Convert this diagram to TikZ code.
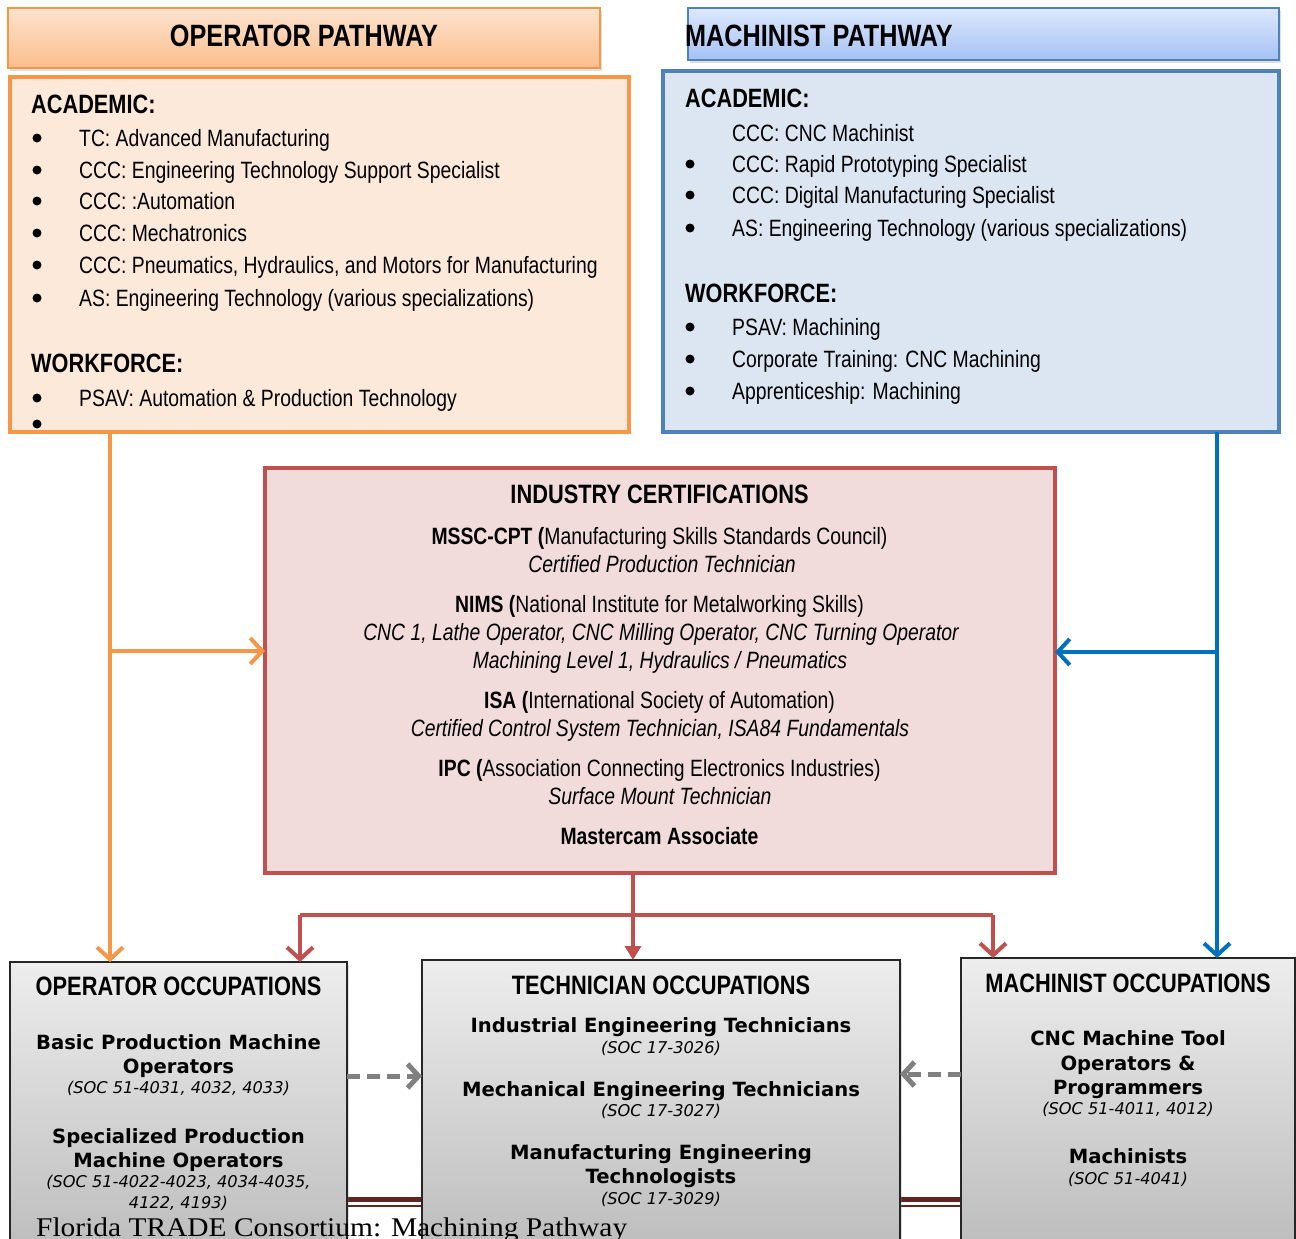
\documentclass[tikz,border=0pt]{standalone}
\usepackage{fontspec}
\setmainfont{Liberation Sans}
\newfontfamily\nar[FakeStretch=0.82]{Liberation Sans}
\newfontfamily\verd{DejaVu Sans}
\newfontfamily\ftr[FakeStretch=1.09]{Liberation Serif}
\usetikzlibrary{arrows.meta,shadows}
\definecolor{orgB}{HTML}{F79646}
\definecolor{orgF}{HTML}{FDE9D9}
\definecolor{orgT}{HTML}{FDE3CF}
\definecolor{orgD}{HTML}{FBBE8C}
\definecolor{bluB}{HTML}{4F81BD}
\definecolor{bluF}{HTML}{DCE6F2}
\definecolor{bluT}{HTML}{DDE8FB}
\definecolor{bluD}{HTML}{A5C2F5}
\definecolor{redB}{HTML}{C0504D}
\definecolor{redF}{HTML}{F2DCDB}
\definecolor{bluA}{HTML}{0070C0}
\definecolor{grayA}{HTML}{808080}
\definecolor{footR}{HTML}{622423}
\tikzset{
 ttl/.style={font=\nar\bfseries\fontsize{30.8}{36}\selectfont, anchor=base, inner sep=0},
 hd/.style={font=\nar\bfseries\fontsize{26.5}{31}\selectfont, anchor=base west, inner sep=0},
 chd/.style={font=\nar\bfseries\fontsize{26.6}{31}\selectfont, anchor=base, inner sep=0},
 bodyl/.style={font=\nar\fontsize{23.6}{28}\selectfont, anchor=base west, inner sep=0},
 bodyc/.style={font=\nar\fontsize{23.6}{28}\selectfont, anchor=base, inner sep=0},
 occ/.style={font=\verd\bfseries\fontsize{19.6}{23}\selectfont, anchor=base, inner sep=0},
 soc/.style={font=\verd\itshape\fontsize{16.2}{19}\selectfont, anchor=base, inner sep=0},
 bul/.style={circle, fill=black, inner sep=0, minimum size=9},
 boxn/.style={rectangle, anchor=north west, outer sep=0, inner sep=0},
 shd/.style={drop shadow={shadow xshift=2pt, shadow yshift=-3pt, opacity=0.25}},
 occbox/.style={boxn, draw=black!85, line width=2, shading=axis, top color=black!7, bottom color=black!28, shd},
 arr/.style={line width=4, -{Straight Barb[length=12,width=26]}},
 tri/.style={line width=4, -{Triangle[length=14,width=16]}},
 gdash/.style={grayA, line width=5, dash pattern=on 13pt off 7pt, -{Straight Barb[length=11,width=24]}},
}
\begin{document}
\begin{tikzpicture}[x=1pt,y=-1pt]
\useasboundingbox (0,0) rectangle (1296,1239);
\clip (0,0) rectangle (1296,1239);
\fill[white] (0,0) rectangle (1296,1239);

% footer rule (behind boxes)
\coordinate (fl) at (14,1199);
\coordinate (fr) at (1290,1199);
\coordinate (fl2) at (14,1206);
\coordinate (fr2) at (1290,1206);
\draw[footR, line width=5] (fl) -- (fr);
\draw[footR, line width=1.2] (fl2) -- (fr2);

% ===== boxes =====
\node[boxn, draw=orgB, line width=2.5, shading=axis, top color=orgT, bottom color=orgD, minimum width=592, minimum height=60, shd] (ophead) at (8,8) {};
\node[boxn, draw=orgB, line width=4, fill=orgF, minimum width=619, minimum height=355] (opbox) at (10,77) {};
\node[boxn, draw=bluB, line width=2.5, shading=axis, top color=bluT, bottom color=bluD, minimum width=591, minimum height=52, shd] (mahead) at (688,8) {};
\node[boxn, draw=bluB, line width=4, fill=bluF, minimum width=616, minimum height=361] (mabox) at (663,71) {};
\node[boxn, draw=redB, line width=4, fill=redF, minimum width=790, minimum height=405] (cert) at (265,468) {};
\node[occbox, minimum width=337, minimum height=320] (opocc) at (10,962) {};
\node[occbox, minimum width=478, minimum height=320] (tecocc) at (422,960) {};
\node[occbox, minimum width=334, minimum height=320] (maocc) at (961,958) {};

% ===== headers =====
\node[ttl] (opt) at (304,47) {OPERATOR PATHWAY};
\node[ttl, anchor=base west] (mat) at (685,47) {MACHINIST PATHWAY};

% ===== operator pathway content =====
\node[hd] (oacad) at (31,113) {ACADEMIC:};
\foreach \y/\t [count=\i] in {138/{TC: Advanced Manufacturing},
  170/{CCC: Engineering Technology Support Specialist},
  201/{CCC: :Automation},
  233/{CCC: Mechatronics},
  265/{CCC: Pneumatics, Hydraulics, and Motors for Manufacturing},
  298/{AS: Engineering Technology (various specializations)}}
{
  \node[bul] (ob\i) at (37,\y) {};
  \node[bodyl] (ot\i) at (79,\y+8) {\t};
}
\node[hd] (owork) at (31,372) {WORKFORCE:};
\node[bul] (ob7) at (37,398) {};
\node[bodyl] (ot7) at (79,406) {PSAV: Automation \& Production Technology};
\node[bul] (ob8) at (37,424) {};

% ===== machinist pathway content =====
\node[hd] (macad) at (685,107) {ACADEMIC:};
\node[bodyl] (mt0) at (732,141) {CCC: CNC Machinist};
\foreach \y/\t [count=\i] in {164/{CCC: Rapid Prototyping Specialist},
  195/{CCC: Digital Manufacturing Specialist},
  228/{AS: Engineering Technology (various specializations)}}
{
  \node[bul] (mb\i) at (690,\y) {};
  \node[bodyl] (mt\i) at (732,\y+8) {\t};
}
\node[hd] (mwork) at (685,302) {WORKFORCE:};
\foreach \y/\t [count=\i from 4] in {327/{PSAV: Machining},
  359/{Corporate Training: CNC Machining},
  391/{Apprenticeship: Machining}}
{
  \node[bul] (mb\i) at (690,\y) {};
  \node[bodyl] (mt\i) at (732,\y+8) {\t};
}

% ===== industry certifications =====
\node[chd] (ct0) at (659.5,503) {INDUSTRY CERTIFICATIONS};
\node[bodyc] (ct1) at (659.5,544) {\textbf{MSSC-CPT (}Manufacturing Skills Standards Council)};
\node[bodyc] (ct2) at (662,572) {\itshape Certified Production Technician};
\node[bodyc] (ct3) at (659.5,612) {\textbf{NIMS (}National Institute for Metalworking Skills)};
\node[bodyc] (ct4) at (661,640) {\itshape CNC 1, Lathe Operator, CNC Milling Operator, CNC Turning Operator};
\node[bodyc] (ct5) at (660,668) {\itshape Machining Level 1, Hydraulics / Pneumatics};
\node[bodyc] (ct6) at (659.5,708) {\textbf{ISA (}International Society of Automation)};
\node[bodyc] (ct7) at (660,736) {\itshape Certified Control System Technician, ISA84 Fundamentals};
\node[bodyc] (ct8) at (659.5,776) {\textbf{IPC (}Association Connecting Electronics Industries)};
\node[bodyc] (ct9) at (660,804) {\itshape Surface Mount Technician};
\node[bodyc] (ct10) at (659.5,844) {\bfseries Mastercam Associate};

% ===== occupations =====
\node[chd] (oo0) at (178.5,995) {OPERATOR OCCUPATIONS};
\node[occ] (oo1) at (178.5,1049) {Basic Production Machine};
\node[occ] (oo2) at (178.5,1073) {Operators};
\node[soc] (oo3) at (178.5,1093) {(SOC 51-4031, 4032, 4033)};
\node[occ] (oo4) at (178.5,1143) {Specialized Production};
\node[occ] (oo5) at (178.5,1167) {Machine Operators};
\node[soc] (oo6) at (178.5,1187) {(SOC 51-4022-4023, 4034-4035,};
\node[soc] (oo7) at (178.5,1208) {4122, 4193)};

\node[chd] (to0) at (661,994) {TECHNICIAN OCCUPATIONS};
\node[occ] (to1) at (661,1032) {Industrial Engineering Technicians};
\node[soc] (to2) at (661,1053) {(SOC 17-3026)};
\node[occ] (to3) at (661,1096) {Mechanical Engineering Technicians};
\node[soc] (to4) at (661,1116) {(SOC 17-3027)};
\node[occ] (to5) at (661,1159) {Manufacturing Engineering};
\node[occ] (to6) at (661,1183) {Technologists};
\node[soc] (to7) at (661,1204) {(SOC 17-3029)};

\node[chd] (mo0) at (1128,992) {MACHINIST OCCUPATIONS};
\node[occ] (mo1) at (1128,1045) {CNC Machine Tool};
\node[occ] (mo2) at (1128,1070) {Operators \&};
\node[occ] (mo3) at (1128,1094) {Programmers};
\node[soc] (mo4) at (1128,1114) {(SOC 51-4011, 4012)};
\node[occ] (mo5) at (1128,1163) {Machinists};
\node[soc] (mo6) at (1128,1184) {(SOC 51-4041)};

% ===== connectors =====
\coordinate (oj) at (110,651);
\draw[arr, orgB] (opbox.south -| oj) -- (opocc.north -| oj);
\draw[arr, orgB] (oj) -- (cert.west |- oj);

\coordinate (bj) at (1217,652);
\draw[arr, bluA] (mabox.south -| bj) -- (maocc.north -| bj);
\draw[arr, bluA] (bj) -- (cert.east |- bj);

\coordinate (rj) at (633,915);
\coordinate (rl) at (300,915);
\coordinate (rr) at (993,915);
\draw[tri, redB] (cert.south -| rj) -- (tecocc.north -| rj);
\draw[redB, line width=4] (rl) -- (rr);
\draw[arr, redB] (rl) -- (opocc.north -| rl);
\draw[arr, redB] (rr) -- (maocc.north -| rr);

\coordinate (g1) at (0,1076);
\coordinate (g2) at (0,1074);
\draw[gdash] (opocc.east |- g1) -- (tecocc.west |- g1);
\draw[gdash] (maocc.west |- g2) -- (tecocc.east |- g2);

% footer text on top
\node[anchor=base west, inner sep=0, font=\ftr\fontsize{27}{32}\selectfont] (ftxt) at (36,1236) {Florida TRADE Consortium: Machining Pathway};
\end{tikzpicture}
\end{document}
